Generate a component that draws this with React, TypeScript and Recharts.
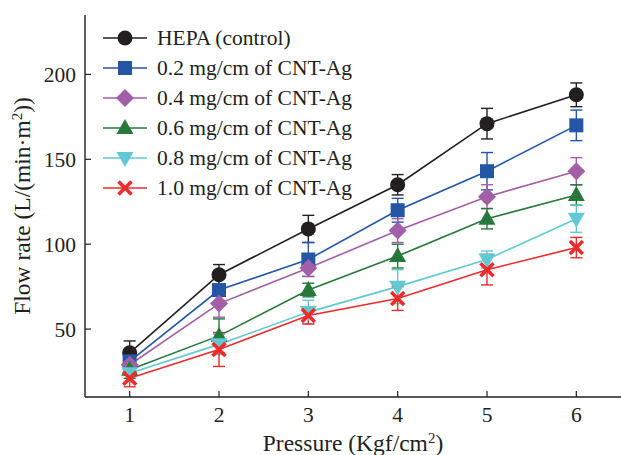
import React from 'react';
import { LineChart, Line, XAxis, YAxis, ErrorBar } from 'recharts';

const pressure = [1, 2, 3, 4, 5, 6];
const seriesNames = [
  'HEPA (control)',
  '0.2 mg/cm of CNT-Ag',
  '0.4 mg/cm of CNT-Ag',
  '0.6 mg/cm of CNT-Ag',
  '0.8 mg/cm of CNT-Ag',
  '1.0 mg/cm of CNT-Ag',
];
const hepa = [36, 82, 109, 135, 171, 188];
const hepaErr = [7, 6, 8, 6, 9, 7];
const cnt02 = [31, 73, 91, 120, 143, 170];
const cnt02Err = [6, 7, 10, 7, 11, 9];
const cnt04 = [29, 65, 86, 108, 128, 143];
const cnt04Err = [6, 8, 5, 7, 7, 8];
const cnt06 = [26, 46, 73, 93, 115, 129];
const cnt06Err = [5, 10, 4, 7, 6, 6];
const cnt08 = [24, 41, 60, 75, 91, 115];
const cnt08Err = [5, 6, 7, 10, 5, 8];
const cnt10 = [21, 38, 58, 68, 85, 98];
const cnt10Err = [5, 10, 5, 7, 9, 6];
const xTicks = [1, 2, 3, 4, 5, 6];
const yTicks = [50, 100, 150, 200];

const values = [hepa, cnt02, cnt04, cnt06, cnt08, cnt10];
const errors = [hepaErr, cnt02Err, cnt04Err, cnt06Err, cnt08Err, cnt10Err];
const colors = ['#231f20', '#2456a6', '#a35ea8', '#27793b', '#62c9d2', '#ee2a2b'];
const kinds = ['circle', 'square', 'diamond', 'triangle', 'triangleDown', 'cross'];

const data = pressure.map((p, i) => {
  const row: any = { p };
  values.forEach((v, s) => {
    row['s' + s] = v[i];
    row['e' + s] = errors[s][i];
  });
  return row;
});

const FONT = '"Liberation Serif", "Times New Roman", serif';
const AXIS = '#231f20';

function Marker({ cx, cy, kind, color }: any) {
  if (cx == null || cy == null) return null;
  switch (kind) {
    case 'circle':
      return <circle cx={cx} cy={cy} r={7.5} fill={color} />;
    case 'square':
      return <rect x={cx - 7} y={cy - 7} width={14} height={14} fill={color} />;
    case 'diamond':
      return <polygon points={`${cx},${cy - 9} ${cx + 9},${cy} ${cx},${cy + 9} ${cx - 9},${cy}`} fill={color} />;
    case 'triangle':
      return <polygon points={`${cx},${cy - 9} ${cx + 8.5},${cy + 6} ${cx - 8.5},${cy + 6}`} fill={color} />;
    case 'triangleDown':
      return <polygon points={`${cx},${cy + 9} ${cx + 8.5},${cy - 6} ${cx - 8.5},${cy - 6}`} fill={color} />;
    case 'cross':
      return (
        <g stroke={color} strokeWidth={3.5}>
          <line x1={cx - 6.5} y1={cy - 6.5} x2={cx + 6.5} y2={cy + 6.5} />
          <line x1={cx - 6.5} y1={cy + 6.5} x2={cx + 6.5} y2={cy - 6.5} />
        </g>
      );
    default:
      return null;
  }
}

function LegendBox() {
  return (
    <div style={{ position: 'absolute', left: 100, top: 23, fontFamily: FONT, fontSize: 21.5, color: '#231f20' }}>
      {seriesNames.map((name, i) => (
        <div key={name} style={{ display: 'flex', alignItems: 'center', height: 30, whiteSpace: 'nowrap' }}>
          <svg width={50} height={30} style={{ flex: 'none' }}>
            <line x1={3} y1={15} x2={47} y2={15} stroke={colors[i]} strokeWidth={1.6} />
            <Marker cx={25} cy={15} kind={kinds[i]} color={colors[i]} />
          </svg>
          <span style={{ marginLeft: 7, lineHeight: '30px' }}>{name}</span>
        </div>
      ))}
    </div>
  );
}

function YTitle() {
  return (
    <text
      x={0}
      y={0}
      transform="translate(30, 206) rotate(-90)"
      textAnchor="middle"
      fontFamily={FONT}
      fontSize={23.5}
      fill="#231f20"
    >
      Flow rate (L/(min·m<tspan dy={-8} fontSize={15}>2</tspan><tspan dy={8}>))</tspan>
    </text>
  );
}

function XTitle() {
  return (
    <text x={353} y={451} textAnchor="middle" fontFamily={FONT} fontSize={23.5} fill="#231f20">
      Pressure (Kgf/cm<tspan dy={-8} fontSize={15}>2</tspan><tspan dy={8}>)</tspan>
    </text>
  );
}

export default function App() {
  return (
    <div style={{ position: 'absolute', left: 0, top: 0, width: 621, height: 455, overflow: 'hidden', background: '#fff' }}>
      <LineChart width={621} height={455} data={data} margin={{ top: 15, right: 0, left: 0, bottom: 0 }}>
        <XAxis
          xAxisId="top"
          orientation="top"
          dataKey="p"
          type="number"
          domain={[0.5, 6.5]}
          height={0}
          tick={false}
          tickLine={false}
          axisLine={{ stroke: AXIS, strokeWidth: 1.4 }}
        />
        <XAxis
          dataKey="p"
          type="number"
          domain={[0.5, 6.5]}
          ticks={xTicks}
          height={58}
          tickSize={-6}
          tickMargin={16}
          axisLine={{ stroke: AXIS, strokeWidth: 1.4 }}
          tickLine={{ stroke: AXIS, strokeWidth: 1.2 }}
          tick={{ fontFamily: FONT, fontSize: 21.5, fill: '#231f20' }}
          label={<XTitle />}
        />
        <YAxis
          type="number"
          domain={[10, 235]}
          ticks={yTicks}
          width={85}
          tickSize={-6}
          tickMargin={15}
          axisLine={{ stroke: AXIS, strokeWidth: 1.4 }}
          tickLine={{ stroke: AXIS, strokeWidth: 1.2 }}
          tick={{ fontFamily: FONT, fontSize: 21.5, fill: '#231f20' }}
          label={<YTitle />}
        />
        {values.map((_, s) => (
          <Line
            key={s}
            dataKey={'s' + s}
            name={seriesNames[s]}
            stroke={colors[s]}
            strokeWidth={1.6}
            isAnimationActive={false}
            dot={(p: any) => <Marker key={p.index} cx={p.cx} cy={p.cy} kind={kinds[s]} color={colors[s]} />}
            activeDot={false}
          >
            <ErrorBar dataKey={'e' + s} direction="y" width={6} stroke={colors[s]} strokeWidth={1.4} isAnimationActive={false} />
          </Line>
        ))}
      </LineChart>
      <LegendBox />
    </div>
  );
}
